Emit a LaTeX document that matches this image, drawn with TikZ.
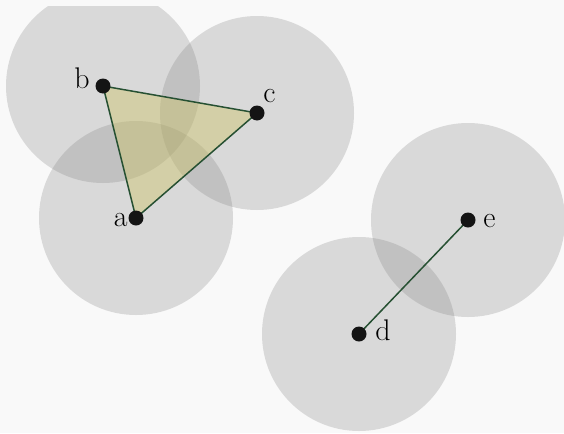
\documentclass[tikz,border=0pt]{standalone}
\usepackage{fontspec}
\usepackage{tikz}
\usetikzlibrary{calc,positioning}
\definecolor{bgGray}{RGB}{249,249,249}
\definecolor{ballGray}{RGB}{128,128,128}
\definecolor{simplexFill}{RGB}{203,193,93}
\definecolor{edgeGreen}{RGB}{38,80,50}

\begin{document}
\begin{tikzpicture}[x=0.02cm,y=-0.02cm,
  ball/.style={fill=ballGray,fill opacity=0.26,draw=none},
  vertex/.style={circle,fill=black!92,inner sep=0pt,minimum size=0.3cm},
  lbl/.style={font=\fontsize{17}{19}\selectfont,inner sep=0pt},
  simplex/.style={fill=simplexFill,fill opacity=0.4,draw=edgeGreen,line width=0.85pt,line join=round},
  edge1/.style={draw=edgeGreen,line width=0.85pt}
]
  \fill[bgGray] (0,0) rectangle (564,433);
  \useasboundingbox (0,0) rectangle (564,433);
  % balls of radius r around the points
  \begin{scope}
    \clip (0,6) rectangle (564,433);
    \foreach \p in {(136,218),(103,86),(257,113),(359,334),(468,220)}
      \fill[ball] \p circle (97);
  \end{scope}
  \coordinate (a) at (136,218);
  \coordinate (b) at (103,86);
  \coordinate (c) at (257,113);
  \coordinate (d) at (359,334);
  \coordinate (e) at (468,220);
  % 2-simplex and 1-simplex
  \draw[simplex] (a) -- (b) -- (c) -- cycle;
  \draw[edge1] (d) -- (e);
  \node[vertex] (va) at (a) {};
  \node[vertex] (vb) at (b) {};
  \node[vertex] (vc) at (c) {};
  \node[vertex] (vd) at (d) {};
  \node[vertex] (ve) at (e) {};
  \node[lbl,anchor=base east] (la) at (128,226) {a};
  \node[lbl,anchor=base east] (lb) at (90,88)   {b};
  \node[lbl,anchor=base west] (lc) at (263,102) {c};
  \node[lbl,anchor=base west] (ld) at (375,340) {d};
  \node[lbl,anchor=base west] (le) at (483,227) {e};
\end{tikzpicture}
\end{document}
